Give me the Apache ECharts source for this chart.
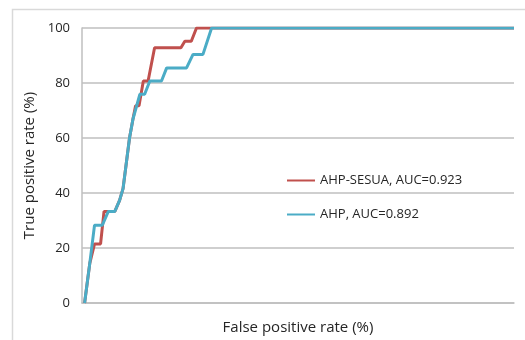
<!DOCTYPE html>
<html>
<head>
<meta charset="utf-8">
<script src="https://cdn.jsdelivr.net/npm/echarts@6/dist/echarts.min.js"></script>
<style>html,body{margin:0;padding:0;background:#fff;}#c{width:525px;height:340px;}</style>
</head>
<body>
<div id="c"></div>
<script>
var seriesNames = ['AHP-SESUA, AUC=0.923', 'AHP, AUC=0.892'];
var yTicks = [0, 20, 40, 60, 80, 100];
var xTitle = 'False positive rate (%)';
var yTitle = 'True positive rate (%)';
// [false positive rate %, true positive rate %]
var sesuaFpr = [0.6, 1.8, 2.9, 4.3, 5.1, 6.3, 7.6, 8.7, 9.5, 11.0, 11.8, 12.4, 13.2, 14.2, 15.3, 16.8, 22.9, 23.8, 25.3, 26.5, 100];
var sesuaTpr = [0, 14.4, 21.5, 21.5, 33.3, 33.3, 33.3, 37.3, 41.6, 60, 66.9, 71.7, 71.7, 80.7, 80.7, 92.8, 92.8, 95.2, 95.2, 100, 100];
var ahpFpr = [0.6, 1.8, 2.9, 4.7, 6.1, 7.6, 8.7, 9.5, 11.0, 11.8, 13.4, 14.5, 15.7, 18.4, 19.6, 24.2, 25.7, 28.0, 30.0, 100];
var ahpTpr = [0, 14.4, 28.3, 28.3, 33.3, 33.3, 37.3, 41.6, 60, 66.9, 75.9, 75.9, 80.7, 80.7, 85.5, 85.5, 90.4, 90.4, 100, 100];

function pairs(xs, ys) { return xs.map(function (x, i) { return [x, ys[i]]; }); }

var chart = echarts.init(document.getElementById('c'));
var font = '"Open Sans", sans-serif';
chart.setOption({
  animation: false,
  backgroundColor: '#fff',
  graphic: [{
    type: 'rect', left: 10, top: 7, silent: true,
    shape: { width: 540, height: 360 },
    style: { fill: 'none', stroke: '#d9d9d9', lineWidth: 1.5 }
  }],
  grid: { left: 82, right: 11, top: 28, bottom: 35, containLabel: false },
  legend: {
    orient: 'vertical', left: 281, top: 169, itemWidth: 28, itemHeight: 14, itemGap: 21,
    data: seriesNames,
    itemStyle: { opacity: 0 },
    textStyle: { fontFamily: font, fontSize: 13, color: '#262626' }
  },
  xAxis: {
    type: 'value', min: 0, max: 100,
    name: xTitle, nameLocation: 'middle', nameGap: 17,
    nameTextStyle: { fontFamily: font, fontSize: 15, color: '#262626' },
    axisLabel: { show: false }, axisTick: { show: false },
    axisLine: { show: true, lineStyle: { color: '#bfbfbf', width: 1.5 } },
    splitLine: { show: false }
  },
  yAxis: {
    type: 'value', min: yTicks[0], max: yTicks[yTicks.length - 1], interval: 20,
    name: yTitle, nameLocation: 'middle', nameGap: 37,
    nameTextStyle: { fontFamily: font, fontSize: 15, color: '#262626' },
    axisLabel: { fontFamily: font, fontSize: 13, color: '#262626', margin: 12 },
    axisTick: { show: false },
    axisLine: { show: true, lineStyle: { color: '#bfbfbf', width: 1.5 } },
    splitLine: { show: true, lineStyle: { color: '#bfbfbf', width: 1.5 } }
  },
  series: [
    { name: seriesNames[0], type: 'line', symbol: 'none', data: pairs(sesuaFpr, sesuaTpr),
      lineStyle: { color: '#c0504d', width: 3 }, itemStyle: { color: '#c0504d' } },
    { name: seriesNames[1], type: 'line', symbol: 'none', data: pairs(ahpFpr, ahpTpr),
      lineStyle: { color: '#4bacc6', width: 3 }, itemStyle: { color: '#4bacc6' } }
  ]
});
</script>
</body>
</html>
